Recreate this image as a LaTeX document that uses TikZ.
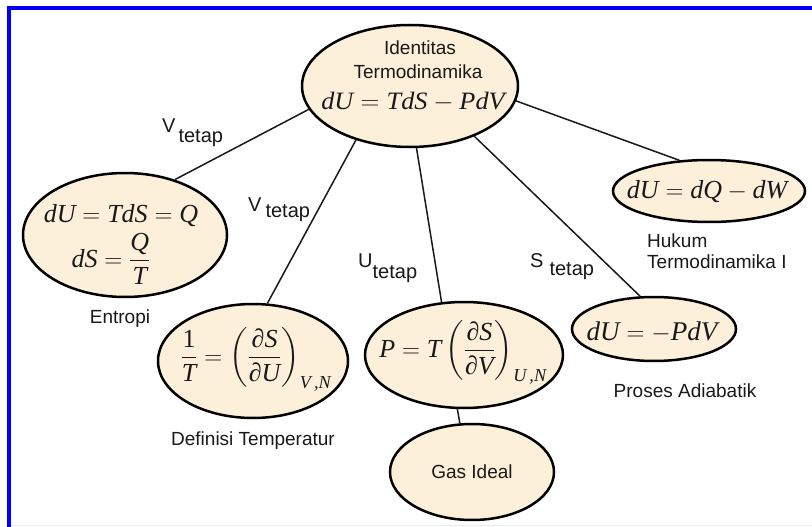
\documentclass[tikz,border=0pt]{standalone}
\usepackage{fontspec}
\usepackage{amsmath}
\usepackage{graphicx}
\usetikzlibrary{shapes.geometric}
\setmainfont{Liberation Sans}
\newfontfamily\tms{Liberation Serif}
\newcommand\mi[1]{\text{\tms\itshape #1}}
\newcommand\mr[1]{\text{\tms #1}}
\definecolor{bub}{HTML}{FDF0DA}
\tikzset{
  bubble/.style={ellipse, draw=black, line width=2.5pt, fill=bub, inner sep=0pt},
  txt/.style={font=\fontsize{19}{21}\selectfont, inner sep=0pt, text=black!90},
  lbl/.style={font=\fontsize{20}{22}\selectfont, inner sep=0pt, text=black!90},
  eq/.style={font=\fontsize{26}{30}\selectfont, inner sep=0pt, text=black!90},
  link/.style={line width=1.5pt, draw=black!90}
}
\begin{document}
\begin{tikzpicture}[x=1pt,y=-1pt]
\useasboundingbox (0,0) rectangle (812,527);
\fill[white] (0,0) rectangle (812,527);
\draw[blue, line width=4pt] (8.5,527) -- (8.5,8.5) -- (812,8.5);
\draw[blue!8, line width=1pt] (11,525.5) -- (812,525.5);

% ellipses
\node[bubble, minimum width=216pt, minimum height=122pt] (top) at (410,86) {};
\node[bubble, minimum width=204pt, minimum height=124pt] (ent) at (125,235) {};
\node[bubble, minimum width=190pt, minimum height=114pt] (def) at (253,361) {};
\node[bubble, minimum width=198pt, minimum height=106pt] (pn) at (464,355) {};
\node[bubble, minimum width=164pt, minimum height=96pt] (gas) at (472,472) {};
\node[bubble, minimum width=192pt, minimum height=62pt] (dq) at (709,191) {};
\node[bubble, minimum width=164pt, minimum height=64pt] (adi) at (654,329) {};

% connectors
\draw[link] (top.193) -- (ent.48);
\draw[link] (top.225.5) -- (def.76);
\draw[link] (top.276) -- (pn.113);
\draw[link] (top.322.7) -- (adi.113.6);
\draw[link] (top.352.5) -- (dq.134);
\draw[link] (pn.263) -- (gas.104);

% texts inside ellipses
\node[txt, anchor=base] (topa) at (420,55) {Identitas};
\node[txt, anchor=base] (topb) at (418,78) {Termodinamika};
\node[eq, font=\fontsize{25}{30}\selectfont, anchor=base] (topeq) at (413,110) {\scalebox{1.05}[1]{$\mi{dU}=\mi{TdS}-\mi{PdV}$}};
\node[eq, anchor=base] (enta) at (121,222) {$\mi{dU}=\mi{TdS}=\mi{Q}$};
\node[eq, anchor=base] (entb) at (111,267) {$\displaystyle \mi{dS}=\frac{\mi{Q}}{\mi{T}}$};
\node[eq, anchor=base] (defeq) at (256,364) {$\displaystyle \frac{\mr{1}}{\mi{T}}=\left(\frac{\mr{∂}\mi{S}}{\mr{∂}\mi{U}}\right)_{\mi{V\,,N}}$};
\node[eq, anchor=base] (peq) at (463,357) {$\displaystyle \mi{P}=\mi{T}\left(\frac{\mr{∂}\mi{S}}{\mr{∂}\mi{V}}\right)_{\mi{U\,,N}}$};
\node[txt, anchor=base] (gast) at (472,478) {Gas Ideal};
\node[eq, anchor=base] (dqeq) at (707,198) {$\mi{dU}=\mi{dQ}-\mi{dW}$};
\node[eq, font=\fontsize{27}{30}\selectfont, anchor=base] (adieq) at (652,340) {$\mi{dU}=-\mi{PdV}$};

% captions
\node[txt, anchor=base] (entc) at (120,323) {Entropi};
\node[txt, anchor=base] (defc) at (253,445) {Definisi Temperatur};
\node[txt, anchor=base west] (huk1) at (647,247) {Hukum};
\node[txt, anchor=base west] (huk2) at (647,268) {Termodinamika I};
\node[txt, anchor=base] (adic) at (685,397) {Proses Adiabatik};

% edge labels
\node[lbl, anchor=base west] (lv1) at (162,132) {V\hspace{3pt}\raisebox{-10pt}{tetap}};
\node[lbl, anchor=base west] (lv2) at (248,211) {V\hspace{4pt}\raisebox{-6pt}{tetap}};
\node[lbl, anchor=base west] (lu) at (358,267) {U\raisebox{-11pt}{tetap}};
\node[lbl, anchor=base west] (ls) at (530,267) {S\hspace{6pt}\raisebox{-8pt}{tetap}};
\end{tikzpicture}
\end{document}
